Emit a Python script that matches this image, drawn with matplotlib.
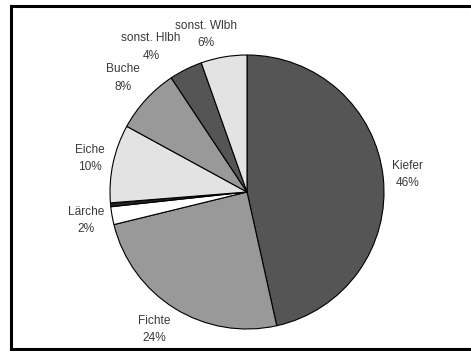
import numpy as np
import matplotlib
matplotlib.use("Agg")
import matplotlib.pyplot as plt
from matplotlib.lines import Line2D

# Baumartenanteile
species = ["Kiefer", "Fichte", "Lärche", "", "Eiche", "Buche", "sonst. Hlbh", "sonst. Wlbh"]
shares = [46.4, 24.6, 2.1, 0.45, 9.2, 7.7, 3.9, 5.4]
pct_labels = ["46%", "24%", "2%", "", "10%", "8%", "4%", "6%"]
colors = ["#555555", "#999999", "#ffffff", "#222222", "#e3e3e3", "#999999", "#555555", "#e3e3e3"]
label_dist = [1.18, 1.21, 1.19, 1.2, 1.17, 1.23, 1.27, 1.19]
label_shift = [0, -2, 0, 0, 0, 0, 7, 5]  # degrees, nudge crowded labels

W, H = 471, 351
fig = plt.figure(figsize=(W / 100, H / 100), dpi=100)
ax = fig.add_axes([0, 0, 1, 1])

cx, cy, r = 247, H - 192, 137
wedges, _ = ax.pie(shares, colors=colors, startangle=90, counterclock=False,
                   center=(cx, cy), radius=r, frame=True,
                   wedgeprops=dict(edgecolor="black", linewidth=0.8))
ax.set_xlim(0, W)
ax.set_ylim(0, H)
ax.set_aspect("equal")
ax.axis("off")

for w, name, pct, d, s in zip(wedges, species, pct_labels, label_dist, label_shift):
    if not name:
        continue
    ang = np.deg2rad((w.theta1 + w.theta2) / 2 + s)
    x = cx + d * r * np.cos(ang)
    y = cy + d * r * np.sin(ang)
    ax.text(x, y, name + "\n" + pct, ha="center", va="center", fontsize=8.6,
            family="Liberation Sans", color="#3a3a3a", linespacing=1.6)

# Rahmen (links, oben, unten)
for xs, ys in [([11, 11], [2, 345]), ([11, W], [345, 345]), ([11, W], [2, 2])]:
    fig.add_artist(Line2D(np.array(xs) / W, np.array(ys) / H, color="black", linewidth=2.2))

fig.savefig("out.png", dpi=100)
